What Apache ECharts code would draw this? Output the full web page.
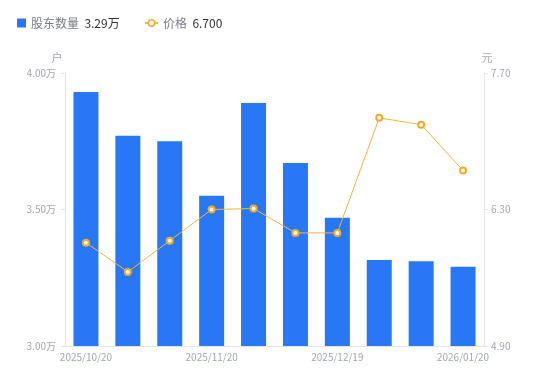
<!DOCTYPE html>
<html><head><meta charset="utf-8">
<script src="https://cdn.jsdelivr.net/npm/echarts@6/dist/echarts.min.js"></script>
<style>html,body{margin:0;padding:0;background:#fff}#c{width:550px;height:381px}</style>
</head><body><div id="c"></div>
<script>
const categories = ['2025/10/20','2025/10/31','2025/11/10','2025/11/20','2025/11/28','2025/12/10','2025/12/19','2025/12/31','2026/01/09','2026/01/20'];
const holders = [3.93, 3.77, 3.75, 3.55, 3.89, 3.67, 3.47, 3.315, 3.31, 3.29];
const prices = [5.96, 5.66, 5.98, 6.30, 6.31, 6.06, 6.06, 7.24, 7.17, 6.70];
const leftTicks = [3.0, 3.5, 4.0];
const rightTicks = [4.9, 6.3, 7.7];

const labelColor = '#a3a7b3';
const lineColor = '#e3e5ea';
const legendText = {
  fontFamily: 'Noto Sans CJK SC',
  rich: {
    a: {color: '#7a7e88', fontSize: 12, fontFamily: 'Noto Sans CJK SC'},
    b: {color: '#333333', fontSize: 12, fontFamily: 'Noto Sans CJK SC'}
  }
};
const chart = echarts.init(document.getElementById('c'));
chart.setOption({
  animation: false,
  legend: [
    {
      left: 12, top: 12, itemWidth: 9, itemHeight: 9,
      data: [{name: '股东数量', icon: 'rect'}],
      formatter: name => '{a|' + name + '}  {b|' + holders[holders.length-1].toFixed(2) + '万}',
      textStyle: legendText
    },
    {
      left: 139, top: 12, itemWidth: 13, itemHeight: 8,
      data: [{name: '价格', itemStyle: {borderWidth: 1.5}}],
      formatter: name => '{a|' + name + '}  {b|' + prices[prices.length-1].toFixed(3) + '}',
      textStyle: legendText
    }
  ],
  grid: {left: 65, right: 66, top: 73, bottom: 35},
  xAxis: {
    type: 'category', data: categories,
    axisLine: {lineStyle: {color: lineColor}},
    axisTick: {show: false},
    axisLabel: {color: labelColor, fontSize: 10, interval: 2, margin: 6, fontFamily: 'Noto Sans CJK SC'}
  },
  yAxis: [
    {
      type: 'value', min: 3, max: 4, interval: 0.5, name: '户',
      nameTextStyle: {color: labelColor, fontSize: 11, padding: [0, 16, 0, 0], fontFamily: 'Noto Sans CJK SC'},
      nameGap: 10,
      axisLine: {show: true, lineStyle: {color: lineColor}},
      axisTick: {show: true, length: 4, lineStyle: {color: lineColor}},
      splitLine: {show: false},
      axisLabel: {color: labelColor, fontSize: 10, margin: 9, fontFamily: 'Noto Sans CJK SC', formatter: v => v.toFixed(2) + '万'}
    },
    {
      type: 'value', min: 4.9, max: 7.7, name: '元', position: 'right',
      nameTextStyle: {color: labelColor, fontSize: 11, padding: [0, 0, 0, 6], fontFamily: 'Noto Sans CJK SC'},
      nameGap: 10,
      axisLine: {show: true, lineStyle: {color: lineColor}},
      axisTick: {show: true, length: 4, lineStyle: {color: lineColor}, customValues: rightTicks},
      splitLine: {show: false},
      axisLabel: {color: labelColor, fontSize: 10, margin: 7, fontFamily: 'Noto Sans CJK SC', customValues: rightTicks, formatter: v => v.toFixed(2)}
    }
  ],
  series: [
    {
      name: '股东数量', type: 'bar', data: holders, barWidth: 25,
      itemStyle: {color: '#2878f5'}
    },
    {
      name: '价格', type: 'line', yAxisIndex: 1, data: prices,
      symbol: 'circle', symbolSize: 6,
      lineStyle: {color: '#f7b340', width: 1},
      itemStyle: {color: '#ffffff', borderColor: '#f7a928', borderWidth: 2}
    }
  ]
});
</script></body></html>
